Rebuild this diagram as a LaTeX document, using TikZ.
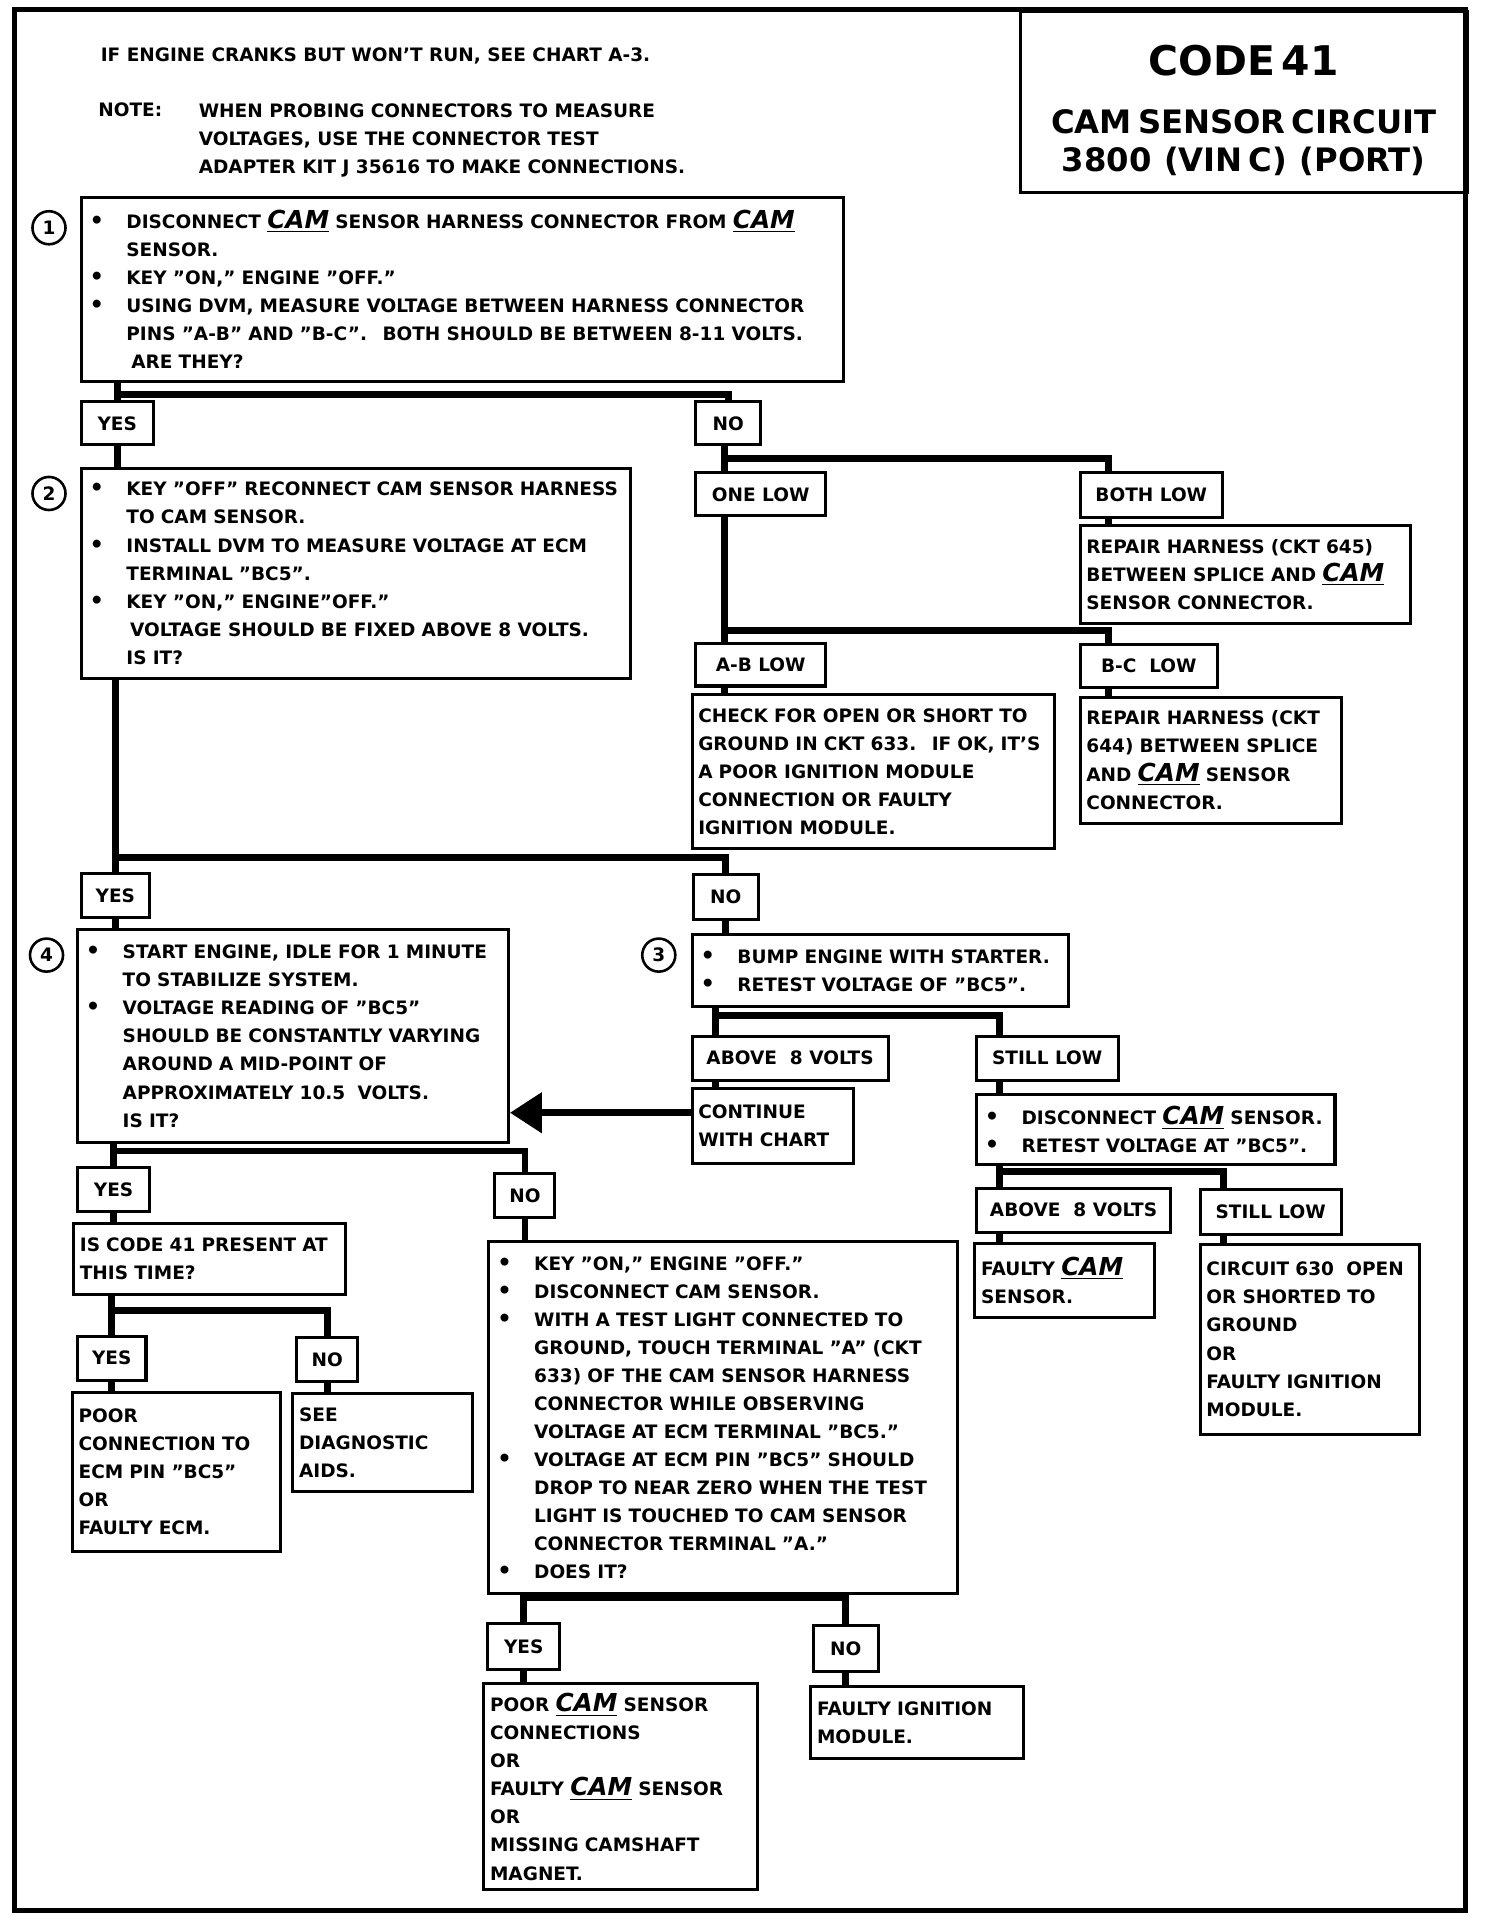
\documentclass[tikz,border=0pt]{standalone}
\usepackage{fontspec}
\setmainfont{DejaVu Sans}
\usetikzlibrary{arrows.meta}

\newlength\unitpx
\setlength\unitpx{0.02cm}
\newcommand\bodyfont{\fontsize{8.6}{13.04}\selectfont\bfseries}
\newcommand\cam{\underline{\textit{\fontsize{11.5}{13.04}\selectfont CAM}}}
\newcommand\dotmark{\makebox[32\unitpx][l]{\hspace{2\unitpx}{\fontsize{10.5}{0}\selectfont\textbullet}}}
\newcommand\fitm{\noindent\dotmark}
\newcommand\itm{\par\noindent\dotmark}
\newcommand\cnt{\par\noindent\hspace*{32\unitpx}}

\begin{document}
\begin{tikzpicture}[
    x=0.02cm, y=-0.02cm,
    every node/.style={font=\bodyfont},
    box/.style 2 args={draw, line width=1.4pt, anchor=north west, inner xsep=5\unitpx, inner ysep=0pt, align=left, text width=#1\unitpx, minimum height=#2\unitpx},
    lbl/.style 2 args={draw, line width=1.4pt, anchor=north west, inner sep=0pt, minimum width=#1\unitpx, minimum height=#2\unitpx},
    num/.style={draw, circle, line width=1.2pt, minimum size=27\unitpx, inner sep=0pt},
    conn/.style={line width=3.2pt},
    arr/.style={conn, -{Triangle[length=0.52cm, width=0.64cm]}},
    txt/.style={inner sep=0pt}
]
\useasboundingbox (0,0) rectangle (1215,1568);

% Frame
\draw[line width=2.4pt] (12,8) rectangle (1197,1560);

% Header notes
\node[txt, anchor=base west] (hdr) at (82,50) {IF ENGINE CRANKS BUT WON'T RUN, SEE CHART A-3.};
\node[txt, anchor=base west] (note) at (80,95) {NOTE:};
\node[txt, anchor=north west, align=left] (notetxt) at (162,84)
    {WHEN PROBING CONNECTORS TO MEASURE\\VOLTAGES, USE THE CONNECTOR TEST\\ADAPTER KIT J 35616 TO MAKE CONNECTIONS.};

% Title
\node[draw, line width=1.4pt, anchor=north west, minimum width=365\unitpx, minimum height=148\unitpx, inner sep=0pt, text width=355\unitpx, align=center] (title) at (832,8)
    {\fontsize{19}{24}\selectfont\rule{0pt}{22pt}CODE 41\par\vspace{9.6pt}
     \fontsize{15}{17.6}\selectfont CAM SENSOR CIRCUIT\par 3800~ (VIN C)~ (PORT)\par};

% Step 1
\node[num] (n1) at (40,186) {1};
\node[box={613}{150}] (b1) at (65,160) {\fitm DISCONNECT \cam{} SENSOR HARNESS CONNECTOR FROM \cam\cnt SENSOR.\itm KEY "ON," ENGINE "OFF."\itm USING DVM, MEASURE VOLTAGE BETWEEN HARNESS CONNECTOR\cnt PINS "A-B" AND "B-C".~ BOTH SHOULD BE BETWEEN 8-11 VOLTS.\cnt\hspace*{4\unitpx}ARE THEY?};
\node[lbl={59}{35}] (yes1) at (65,327) {YES};
\node[lbl={53}{35}] (no1) at (567,327) {NO};

% Step 2
\node[num] (n2) at (40,403) {2};
\node[box={439}{172}] (b2) at (65,381) {\fitm KEY "OFF" RECONNECT CAM SENSOR HARNESS\cnt TO CAM SENSOR.\itm INSTALL DVM TO MEASURE VOLTAGE AT ECM\cnt TERMINAL "BC5".\itm KEY "ON," ENGINE"OFF."\cnt\hspace*{3\unitpx}VOLTAGE SHOULD BE FIXED ABOVE 8 VOLTS.\cnt IS IT?};

% One or both low
\node[lbl={106}{35}] (onelow) at (567,385) {ONE LOW};
\node[lbl={116}{36}] (bothlow) at (881,385) {BOTH LOW};
\node[box={260}{80}] (r645) at (881,428) {REPAIR HARNESS (CKT 645)\\BETWEEN SPLICE AND \cam\\SENSOR CONNECTOR.};
\node[lbl={106}{35}] (ablow) at (567,524) {A-B LOW};
\node[lbl={112}{35}] (bclow) at (881,525) {B-C~ LOW};
\node[box={286}{126}] (check) at (564,566) {CHECK FOR OPEN OR SHORT TO\\GROUND IN CKT 633.~ IF OK, IT'S\\A POOR IGNITION MODULE\\CONNECTION OR FAULTY\\IGNITION MODULE.};
\node[box={203}{103}] (r644) at (881,568) {REPAIR HARNESS (CKT\\644) BETWEEN SPLICE\\AND \cam{} SENSOR\\CONNECTOR.};

% Answers to step 2
\node[lbl={56}{36}] (yes2) at (65,712) {YES};
\node[lbl={53}{37}] (no2) at (565,713) {NO};

% Step 4
\node[num] (n4) at (38,780) {4};
\node[box={342}{174}] (b4) at (62,758) {\fitm START ENGINE, IDLE FOR 1 MINUTE\cnt TO STABILIZE SYSTEM.\itm VOLTAGE READING OF "BC5"\cnt SHOULD BE CONSTANTLY VARYING\cnt AROUND A MID-POINT OF\cnt APPROXIMATELY 10.5~ VOLTS.\cnt IS IT?};

% Step 3
\node[num] (n3) at (538,780) {3};
\node[box={297}{59}] (b3) at (564,762) {\fitm BUMP ENGINE WITH STARTER.\itm RETEST VOLTAGE OF "BC5".};
\node[lbl={160}{36}] (above1) at (564,845) {ABOVE~ 8 VOLTS};
\node[lbl={116}{36}] (still1) at (796,845) {STILL LOW};
\node[box={122}{61}] (cont) at (564,888) {CONTINUE\\WITH CHART};
\node[box={283}{57}] (disc) at (796,893) {\fitm DISCONNECT \cam{} SENSOR.\itm RETEST VOLTAGE AT "BC5".};
\node[lbl={159}{36}] (above2) at (796,969) {ABOVE~ 8 VOLTS};
\node[lbl={115}{37}] (still2) at (979,970) {STILL LOW};
\node[box={137}{61}] (fcam) at (795,1014) {FAULTY \cam\\SENSOR.};
\node[box={169}{155}] (circ) at (979,1015) {CIRCUIT 630~ OPEN\\OR SHORTED TO\\GROUND\\OR\\FAULTY IGNITION\\MODULE.};

% Answers to step 4
\node[lbl={59}{36}] (yes3) at (62,952) {YES};
\node[lbl={49}{36}] (no3) at (403,957) {NO};
\node[box={212}{58}] (q41) at (59,998) {IS CODE 41 PRESENT AT\\THIS TIME?};
\node[lbl={56}{36}] (yes4) at (62,1090) {YES};
\node[lbl={50}{36}] (no4) at (241,1091) {NO};
\node[box={160}{130}] (poorconn) at (58,1136) {POOR\\CONNECTION TO\\ECM PIN "BC5"\\OR\\FAULTY ECM.};
\node[box={137}{80}] (seediag) at (238,1137) {SEE\\DIAGNOSTIC\\AIDS.};
\node[box={373}{287}] (big) at (398,1013) {\fitm KEY "ON," ENGINE "OFF."\itm DISCONNECT CAM SENSOR.\itm WITH A TEST LIGHT CONNECTED TO\cnt GROUND, TOUCH TERMINAL "A" (CKT\cnt 633) OF THE CAM SENSOR HARNESS\cnt CONNECTOR WHILE OBSERVING\cnt VOLTAGE AT ECM TERMINAL "BC5."\itm VOLTAGE AT ECM PIN "BC5" SHOULD\cnt DROP TO NEAR ZERO WHEN THE TEST\cnt LIGHT IS TOUCHED TO CAM SENSOR\cnt CONNECTOR TERMINAL "A."\itm DOES IT?};
\node[lbl={59}{37}] (yes5) at (397,1325) {YES};
\node[lbl={53}{38}] (no5) at (663,1326) {NO};
\node[box={213}{168}] (poorcam) at (394,1374) {POOR \cam{} SENSOR\\CONNECTIONS\\OR\\FAULTY \cam{} SENSOR\\OR\\MISSING CAMSHAFT\\MAGNET.};
\node[box={164}{59}] (fign) at (661,1376) {FAULTY IGNITION\\MODULE.};

% Entry points on the wide answer boxes
\coordinate (one-in) at ([xshift=25\unitpx]onelow.north west);
\coordinate (both-in) at ([xshift=24\unitpx]bothlow.north west);
\coordinate (bc-in) at ([xshift=24\unitpx]bclow.north west);
\coordinate (ab1-in) at ([xshift=20\unitpx]above1.north west);
\coordinate (sl1-in) at ([xshift=20\unitpx]still1.north west);
\coordinate (ab2-in) at ([xshift=20\unitpx]above2.north west);
\coordinate (sl2-in) at ([xshift=20\unitpx]still2.north west);
\coordinate (cont-out) at ([yshift=11\unitpx]cont.west);

% Step 1 answers
\draw[conn] (b1.south -| yes1.north) -- (yes1.north);
\draw[conn] (yes1.north) ++(0,-5) -| (no1.north);
\draw[conn] (yes1.south) -- (yes1.south |- b2.north);

% One low / both low
\draw[conn] (one-in |- no1.south) -- (one-in);
\draw[conn] (one-in |- no1.south) ++(0,10) -| (both-in);
\draw[conn] (both-in |- bothlow.south) -- (both-in |- r645.north);
\draw[conn] (one-in |- onelow.south) -- (one-in |- ablow.north);
\draw[conn] (one-in |- ablow.north) ++(0,-9) -| (bc-in);
\draw[conn] (one-in |- ablow.south) -- (one-in |- check.north);
\draw[conn] (bc-in |- bclow.south) -- (bc-in |- r644.north);

% Step 2 answers
\draw[conn] (b2.south -| yes2.north) -- (yes2.north);
\draw[conn] (yes2.north) ++(0,-12) -| (no2.north);
\draw[conn] (yes2.south) -- (yes2.south |- b4.north);
\draw[conn] (no2.south) -- (no2.south |- b3.north);

% Step 3 answers
\draw[conn] (ab1-in |- b3.south) -- (ab1-in);
\draw[conn] (ab1-in) ++(0,-16) -| (sl1-in);
\draw[conn] (ab1-in |- above1.south) -- (ab1-in |- cont.north);
\draw[arr] (cont-out) -- (cont-out -| b4.east);
\draw[conn] (sl1-in |- still1.south) -- (sl1-in |- disc.north);
\draw[conn] (ab2-in |- disc.south) -- (ab2-in);
\draw[conn] (ab2-in) ++(0,-12) -| (sl2-in);
\draw[conn] (ab2-in |- above2.south) -- (ab2-in |- fcam.north);
\draw[conn] (sl2-in |- still2.south) -- (sl2-in |- circ.north);

% Step 4 answers
\draw[conn] (b4.south -| yes3.north) -- (yes3.north);
\draw[conn] (yes3.north) ++(0,-12) -| (no3.north);
\draw[conn] (yes3.south) -- (yes3.south |- q41.north);
\draw[conn] (no3.south) -- (no3.south |- big.north);
\draw[conn] (q41.south -| yes4.north) -- (yes4.north);
\draw[conn] (yes4.north) ++(0,-20) -| (no4.north);
\draw[conn] (yes4.south) -- (yes4.south |- poorconn.north);
\draw[conn] (no4.south) -- (no4.south |- seediag.north);

% Test light answers
\draw[conn] (big.south -| yes5.north) -- (yes5.north);
\draw[conn] (yes5.north) ++(0,-20) -| (no5.north);
\draw[conn] (yes5.south) -- (yes5.south |- poorcam.north);
\draw[conn] (no5.south) -- (no5.south |- fign.north);

\end{tikzpicture}
\end{document}
